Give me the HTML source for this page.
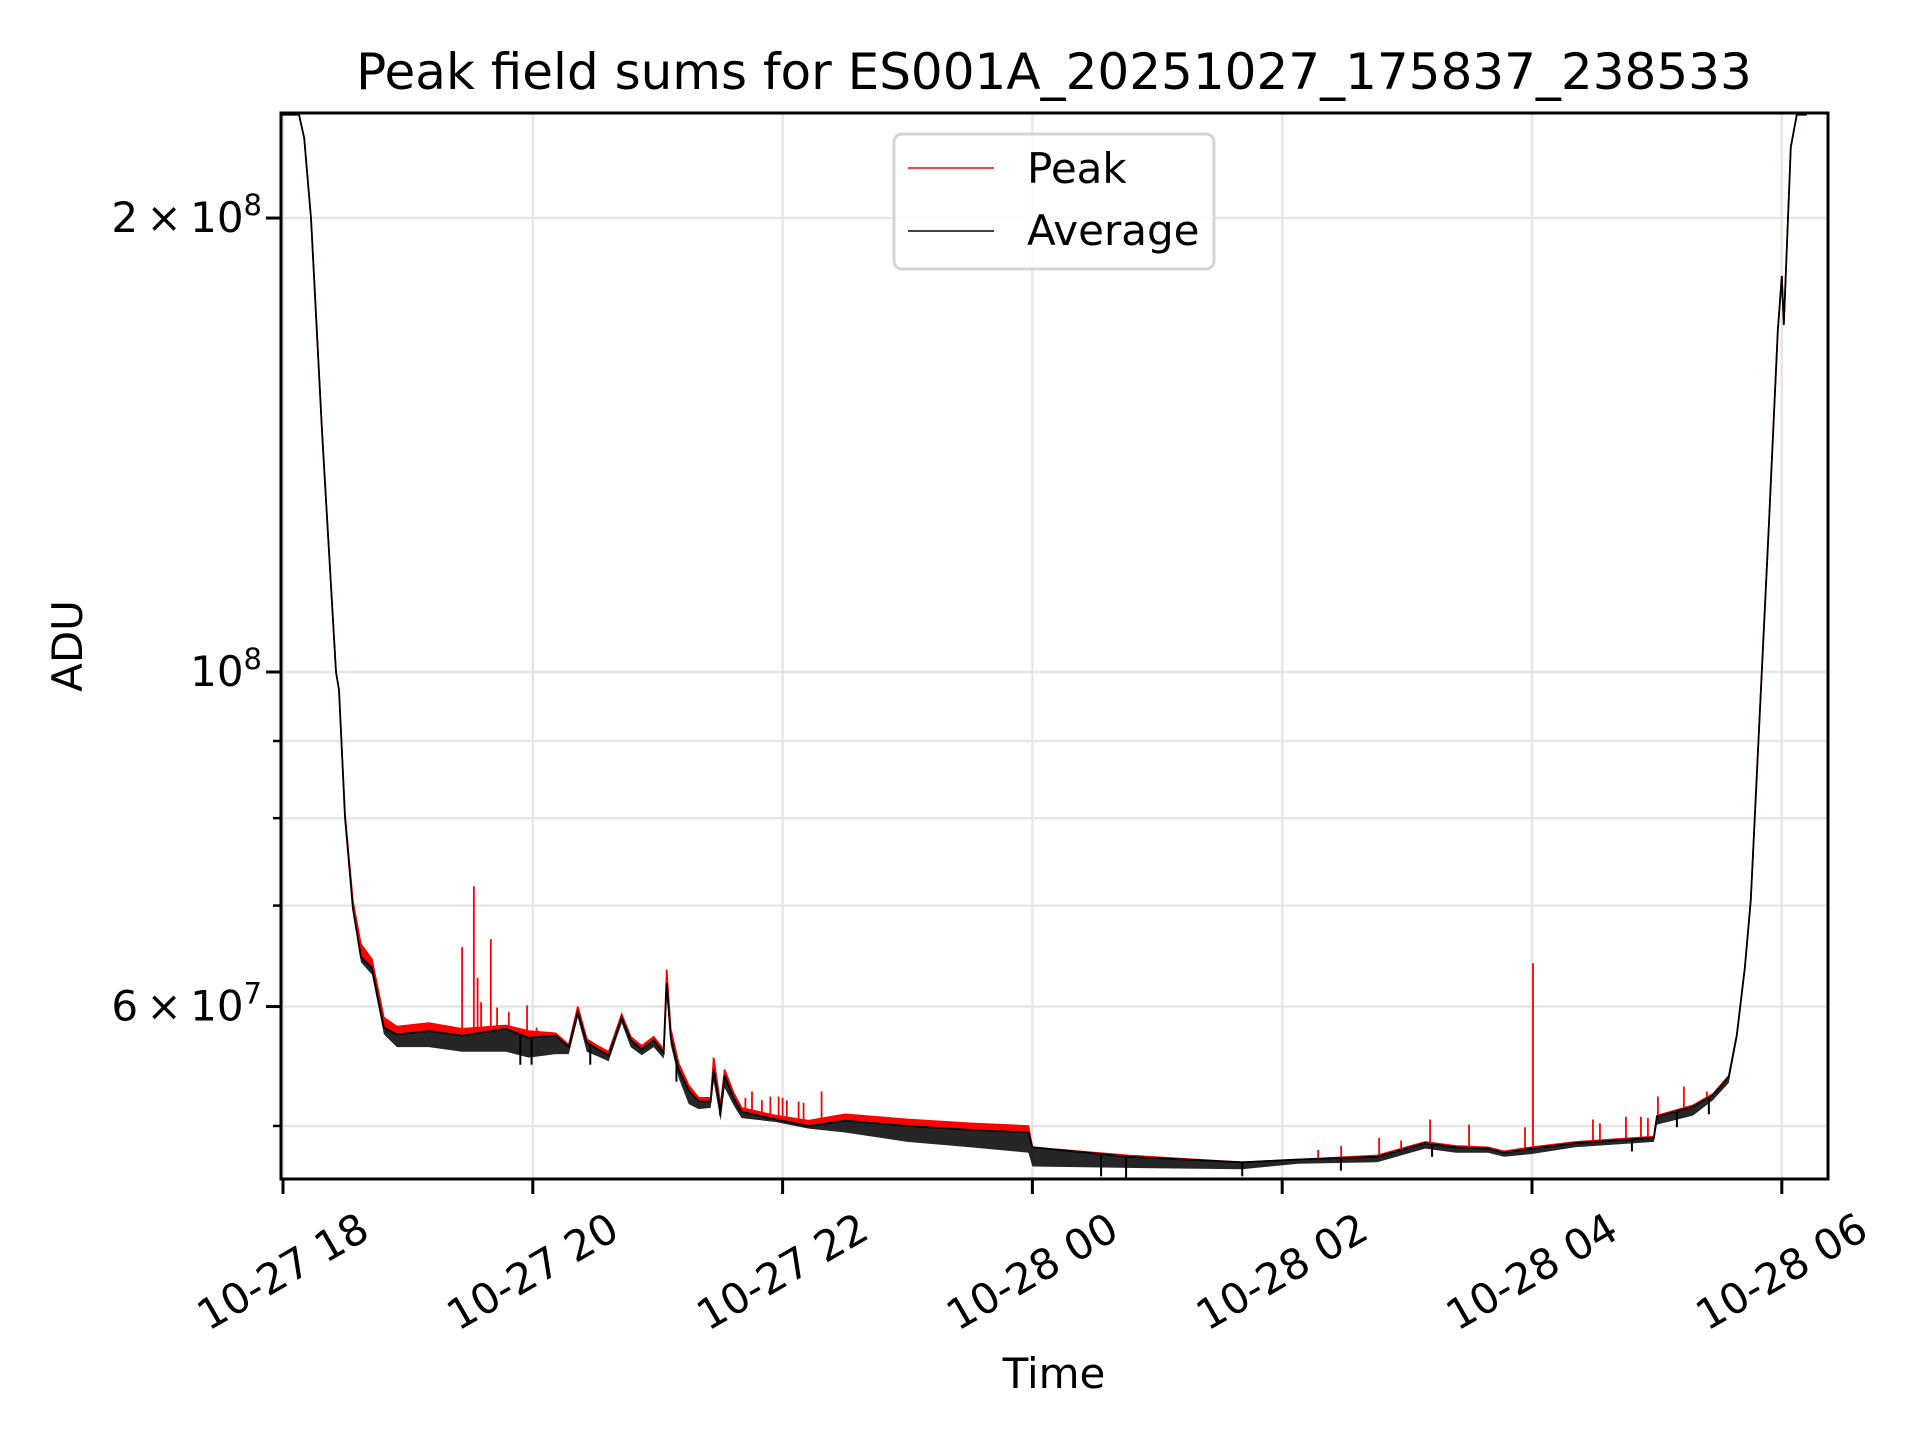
<!DOCTYPE html>
<html><head><meta charset="utf-8"><style>
html,body{margin:0;padding:0;background:#fff;}
svg{display:block;font-family:"DejaVu Sans","Liberation Sans",sans-serif;}
</style></head><body>
<svg id="chart" width="1920" height="1440" viewBox="0 0 1920 1440">
<defs><clipPath id="plotclip"><rect x="281" y="113" width="1547" height="1066"/></clipPath></defs>
<rect x="0" y="0" width="1920" height="1440" fill="#fff"/>
<g id="grid"></g>
<g id="series" clip-path="url(#plotclip)"></g>
<rect x="281" y="113" width="1547" height="1066" fill="none" stroke="#000" stroke-width="3"/>
<g id="ticks"></g>
<text x="1054" y="89" font-size="50" text-anchor="middle">Peak field sums for ES001A_20251027_175837_238533</text>
<text x="0" y="0" font-size="42" text-anchor="middle" transform="translate(82,646) rotate(-90)">ADU</text>
<text x="1054" y="1388" font-size="42" text-anchor="middle">Time</text>
<g>
<rect x="894" y="134" width="320" height="135" rx="8" fill="#fff" fill-opacity="0.8" stroke="#d4d4d4" stroke-width="3"/>
<line x1="908" y1="168" x2="994" y2="168" stroke="#ff0000" stroke-width="1.5"/>
<text x="1027" y="183" font-size="42">Peak</text>
<line x1="908" y1="231" x2="994" y2="231" stroke="#000" stroke-width="1.5"/>
<text x="1027" y="245" font-size="42">Average</text>
</g>
</svg>
<script>
// hours since 10-27 00:00; values in units of 1e7 ADU
const times  = [17.976,18.128,18.17,18.224,18.312,18.424,18.448,18.496,18.56,18.624,18.712,18.808,18.912,19.168,19.432,19.784,19.968,20.184,20.288,20.36,20.432,20.52,20.608,20.712,20.784,20.872,20.968,21.048,21.072,21.104,21.168,21.248,21.328,21.424,21.448,21.504,21.536,21.608,21.672,21.944,22.208,22.5,23.0,23.5,23.968,24.0,24.768,25.68,26.128,26.76,27.144,27.392,27.648,27.776,27.992,28.344,28.976,29.0,29.288,29.448,29.576,29.64,29.704,29.752,29.896,29.968,30.0,30.016,30.072,30.12,30.2];
const peak   = [23.42,23.42,22.6,20.0,14.45,10.0,9.73,8.05,7.05,6.6,6.45,5.9,5.82,5.85,5.8,5.83,5.78,5.76,5.66,6.0,5.71,5.65,5.6,5.93,5.73,5.65,5.73,5.62,6.35,5.8,5.5,5.32,5.22,5.22,5.55,5.16,5.45,5.26,5.14,5.08,5.04,5.09,5.05,5.02,5.0,4.84,4.78,4.73,4.75,4.78,4.88,4.85,4.84,4.81,4.84,4.88,4.92,5.08,5.16,5.25,5.4,5.75,6.37,7.07,12.5,16.85,18.3,17.0,22.3,23.42,23.42];
const avg    = [23.42,23.42,22.6,20.0,14.45,10.0,9.73,8.01,6.97,6.47,6.37,5.81,5.75,5.78,5.74,5.8,5.72,5.74,5.64,5.95,5.68,5.62,5.57,5.9,5.7,5.62,5.7,5.59,6.22,5.73,5.45,5.28,5.19,5.19,5.45,5.12,5.4,5.22,5.11,5.05,5.0,5.04,5.0,4.97,4.95,4.84,4.77,4.73,4.75,4.77,4.87,4.84,4.83,4.8,4.83,4.87,4.91,5.07,5.15,5.24,5.39,5.74,6.36,7.06,12.48,16.83,18.31,16.99,22.29,23.42,23.42];
const avgLow = [23.42,23.42,22.6,20.0,14.45,10.0,9.73,8.01,6.95,6.42,6.3,5.75,5.64,5.64,5.6,5.6,5.55,5.58,5.58,5.9,5.6,5.56,5.52,5.85,5.64,5.57,5.64,5.54,6.1,5.66,5.38,5.17,5.13,5.14,5.35,5.04,5.3,5.16,5.06,5.03,4.98,4.95,4.88,4.84,4.8,4.7,4.69,4.68,4.72,4.73,4.83,4.8,4.8,4.77,4.79,4.84,4.88,5.01,5.08,5.2,5.34,5.71,6.32,7.02,12.4,16.7,18.2,16.9,22.2,23.42,23.42];
const spikeTimes = [19.434,19.528,19.558,19.586,19.664,19.714,19.808,19.874,19.954,20.03,21.448,21.702,21.755,21.834,21.902,21.968,22.0,22.034,22.128,22.168,22.312,26.288,26.472,26.776,26.952,27.184,27.496,27.944,28.008,28.488,28.544,28.752,28.872,28.928,29.008,29.216,29.4];
const spikeVals  = [6.57,7.21,6.27,6.04,6.65,5.99,5.95,5.81,6.01,5.81,5.55,5.22,5.27,5.2,5.23,5.23,5.22,5.2,5.19,5.18,5.27,4.82,4.85,4.91,4.89,5.05,5.01,4.99,6.41,5.05,5.02,5.07,5.07,5.06,5.23,5.31,5.27];
const dipTimes = [19.9,19.99,20.46,21.15,21.5,24.55,24.75,25.68,26.47,27.2,28.8,29.16,29.416];
const dipVals  = [5.49,5.49,5.49,5.35,5.08,4.63,4.62,4.63,4.67,4.77,4.81,4.99,5.09];
const xTickHours  = [18,20,22,24,26,28,30];
const xTickLabels = ["10-27 18","10-27 20","10-27 22","10-28 00","10-28 02","10-28 04","10-28 06"];
const yMinorVals = [5,7,8,9];
const yMajorVals = [6,10,20];

const NS = "http://www.w3.org/2000/svg";
function xS(h){ return 283 + (h - 18) * 124.9; }
function yS(v){ return 672 - 1508 * Math.log10(v / 10); }
function mk(tag, attrs, parent){
  const e = document.createElementNS(NS, tag);
  for (const k in attrs) e.setAttribute(k, attrs[k]);
  parent.appendChild(e);
  return e;
}
const grid = document.getElementById('grid');
const series = document.getElementById('series');
const ticks = document.getElementById('ticks');

yMinorVals.concat(yMajorVals).forEach(v => {
  const l = mk('line', {x1:281, x2:1828, y1:yS(v), y2:yS(v), stroke:'#e6e6e6', 'stroke-width':2.5}, grid);
  
  
});
xTickHours.forEach(h => {
  const l = mk('line', {x1:xS(h), x2:xS(h), y1:113, y2:1179, stroke:'#e6e6e6', 'stroke-width':2.5}, grid);
  
  
});

function pts(arr){ return times.map((t,i)=> xS(t).toFixed(1)+','+yS(arr[i]).toFixed(1)); }
function band(top, bot){ const a = pts(top), b = pts(bot).reverse(); return 'M' + a.join('L') + 'L' + b.join('L') + 'Z'; }
function interp(t){
  for (let i=1;i<times.length;i++){ if (t<=times[i]){ const f=(t-times[i-1])/(times[i]-times[i-1]); return avg[i-1]+(avg[i]-avg[i-1])*f; } }
  return avg[avg.length-1];
}

const pb = mk('path', {d: band(peak, avg), fill:'#ff0000', stroke:'none'}, series);


const pl = mk('polyline', {points: pts(peak).join(' '), fill:'none', stroke:'#ff0000', 'stroke-width':1.6}, series);


spikeTimes.forEach((t,i) => {
  const s = mk('line', {x1:xS(t), x2:xS(t), y1:yS(spikeVals[i]), y2:yS(interp(t)), stroke:'#ff0000', 'stroke-width':1.8}, series);
  
  
});
const ab = mk('path', {d: band(avg, avgLow), fill:'#000', 'fill-opacity':0.85, stroke:'none'}, series);


const al = mk('polyline', {points: pts(avg).join(' '), fill:'none', stroke:'#000', 'stroke-width':1.8}, series);


dipTimes.forEach((t,i) => {
  const d = mk('line', {x1:xS(t), x2:xS(t), y1:yS(interp(t)), y2:yS(dipVals[i]), stroke:'#000', 'stroke-width':2}, series);
  
  
});

xTickHours.forEach((h,i) => {
  const x = xS(h);
  const tk = mk('line', {x1:x, x2:x, y1:1179, y2:1194, stroke:'#000', 'stroke-width':3}, ticks);
  
  
  const tx = mk('text', {x:0, y:14, 'font-size':42, 'text-anchor':'middle', transform:'translate('+x+',1272) rotate(-30)'}, ticks);
  tx.textContent = xTickLabels[i];
  
  
});
yMinorVals.forEach(v => {
  const tk = mk('line', {x1:273, x2:281, y1:yS(v), y2:yS(v), stroke:'#000', 'stroke-width':2.5}, ticks);
  
  
});
yMajorVals.forEach(v => {
  const y = yS(v);
  const tk = mk('line', {x1:266, x2:281, y1:y, y2:y, stroke:'#000', 'stroke-width':3}, ticks);
  
  
  const tx = mk('text', {x:262, y:y+14, 'font-size':42, 'text-anchor':'end'}, ticks);
  
  
  let mant, exp;
  if (v >= 10){ mant = v/10; exp = 8; } else { mant = v; exp = 7; }
  const base = mant === 1 ? '10' : mant + '\u2009\u00d7\u200910';
  const t1 = mk('tspan', {}, tx); t1.textContent = base;
  const t2 = mk('tspan', {dy:-17, 'font-size':29}, tx); t2.textContent = String(exp);
});
</script>
</body></html>
